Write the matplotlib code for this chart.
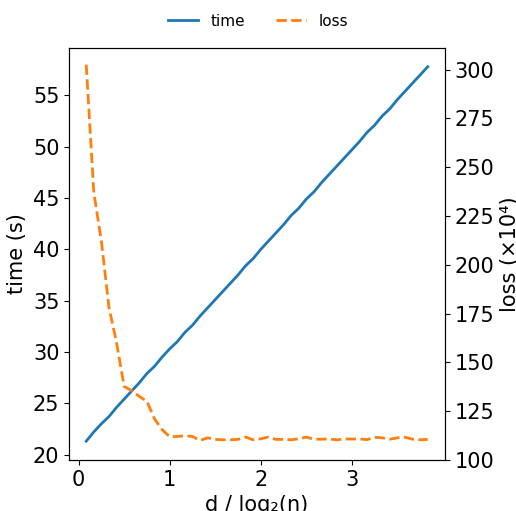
import matplotlib
matplotlib.use("Agg")
import matplotlib.pyplot as plt

# d / log2(n) with log2(n) = 12, d = 1..46
steps = list(range(1, 47))
ratio = [k / 12 for k in steps]

time_s = [21.3, 22.2, 23.0, 23.7, 24.6, 25.4, 26.2, 27.0, 27.9, 28.6,
          29.5, 30.3, 31.0, 31.9, 32.6, 33.5, 34.3, 35.1, 35.9, 36.7,
          37.5, 38.4, 39.1, 40.0, 40.8, 41.6, 42.4, 43.3, 44.0, 44.9,
          45.6, 46.5, 47.3, 48.1, 48.9, 49.7, 50.5, 51.4, 52.1, 53.0,
          53.7, 54.6, 55.4, 56.2, 57.0, 57.8]

loss_e4 = [302.5, 237.0, 212.0, 178.0, 160.0, 137.6, 135.5, 132.5, 130.0, 121.0,
           115.5, 111.9, 112.0, 112.4, 112.0, 110.0, 111.3, 110.5, 110.3, 110.3,
           110.5, 111.7, 110.3, 110.8, 111.7, 110.5, 110.5, 110.3, 110.8, 111.7,
           110.6, 110.6, 110.7, 110.3, 110.7, 110.7, 110.7, 110.4, 111.6, 111.3,
           110.6, 111.3, 111.6, 110.6, 110.3, 110.5]

fig = plt.figure(figsize=(5.16, 5.11), dpi=100)
ax = fig.add_axes([0.134, 0.1, 0.728, 0.806])
ax2 = ax.twinx()

l1, = ax.plot(ratio, time_s, color="#1f77b4", lw=2, label="time")
l2, = ax2.plot(ratio, loss_e4, color="#ff7f0e", lw=2, ls="--", label="loss")

ax2.set_ylim(100, 311)

ax.set_xlabel("d / log₂(n)", fontsize=15)
ax.set_ylabel("time (s)", fontsize=15)
ax2.set_ylabel("loss (×10⁴)", fontsize=15)
ax.tick_params(labelsize=15)
ax2.tick_params(labelsize=15)
ax.set_xticks([0, 1, 2, 3])

fig.legend([l1, l2], ["time", "loss"], loc="upper center", ncol=2,
           frameon=False, fontsize=11, bbox_to_anchor=(0.5, 1.0))

fig.savefig("out.png", dpi=100)
